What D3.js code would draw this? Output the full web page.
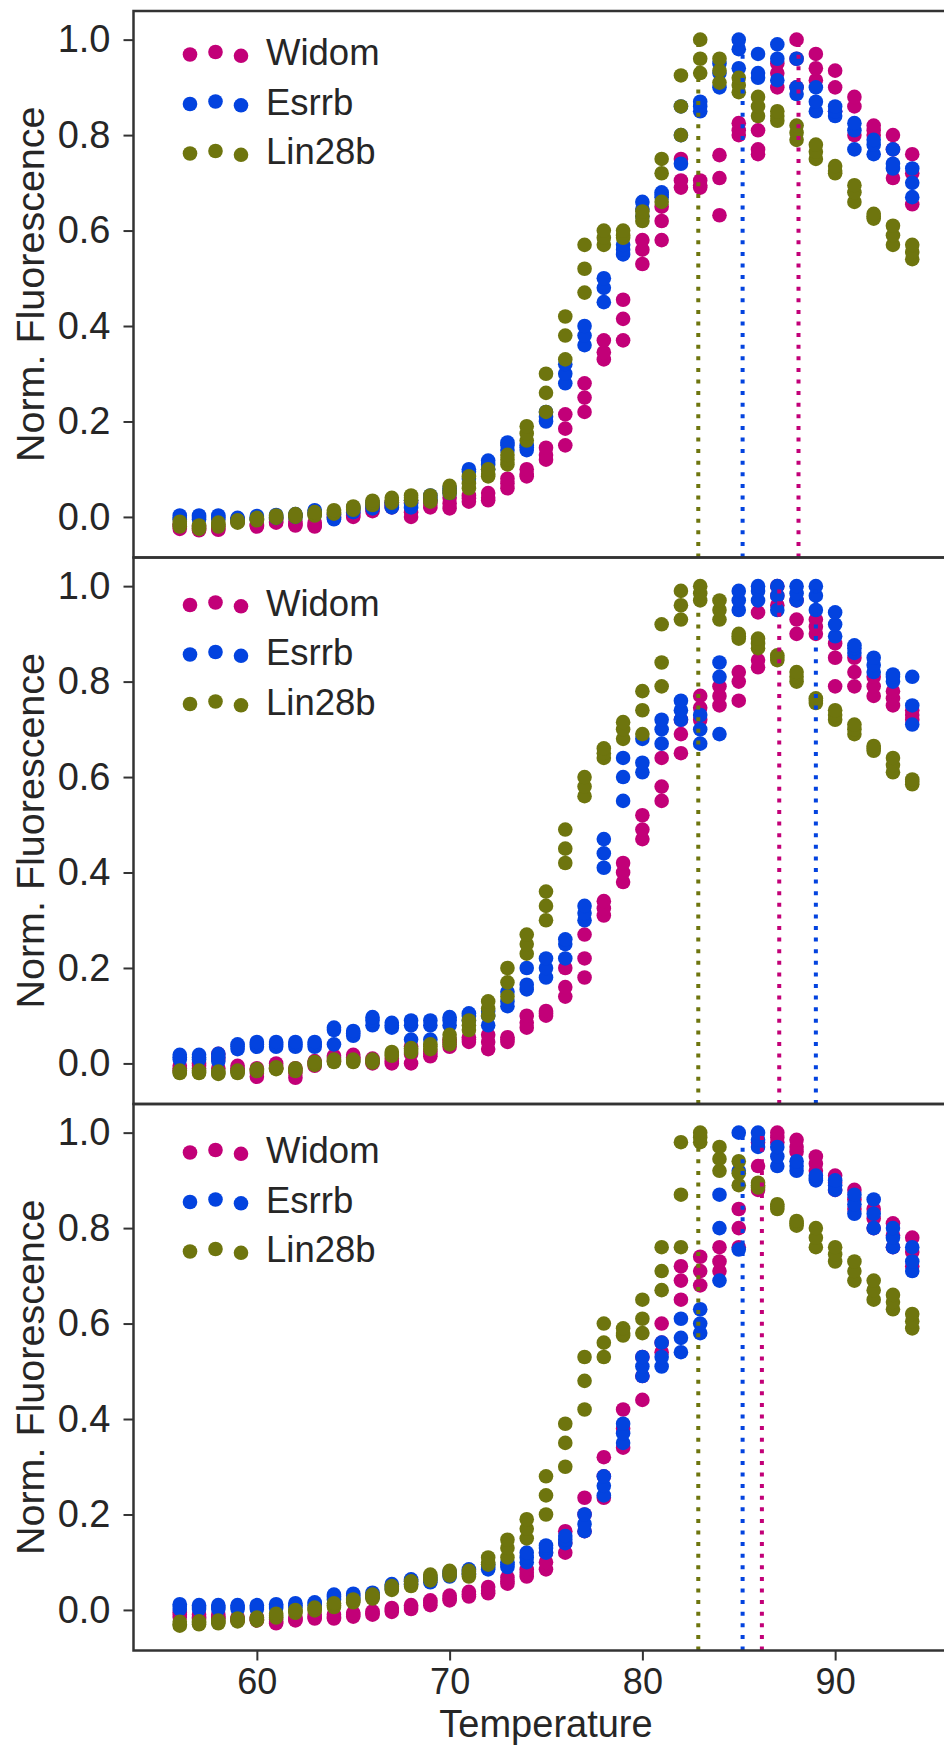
<!DOCTYPE html>
<html>
<head>
<meta charset="utf-8">
<script src="https://cdn.jsdelivr.net/npm/d3@7"></script>
<style>
  body { margin: 0; background: #fff; }
  svg { display: block; }
  text { font-family: "Liberation Sans", Arial, sans-serif; fill: #262626; }
</style>
</head>
<body>
<svg id="chart"></svg>
<script>
var temps = [56, 57, 58, 59, 60, 61, 62, 63, 64, 65, 66, 67, 68, 69, 70, 71, 72, 73, 74, 75,
             76, 77, 78, 79, 80, 81, 82, 83, 84, 85, 86, 87, 88, 89, 90, 91, 92, 93, 94];
var seriesNames  = ["Widom", "Esrrb", "Lin28b"];
var seriesColors = ["#c20078", "#0343df", "#6e750e"];
var yTicks = [0, 0.2, 0.4, 0.6, 0.8, 1.0];
var xTicks = [60, 70, 80, 90];

// each row = the three replicate readings at one temperature
var widom1 = [[-0.025,-0.02,-0.015],[-0.028,-0.025,-0.02],[-0.027,-0.025,-0.02],[-0.01,-0.007,-0.005],[-0.02,-0.018,-0.015],
  [-0.012,-0.01,-0.005],[-0.018,-0.015,-0.01],[-0.02,-0.018,-0.012],[-0.002,0,0.004],[0,0.003,0.008],
  [0.012,0.018,0.022],[0.02,0.024,0.03],[0,0.01,0.03],[0.02,0.028,0.035],[0.018,0.028,0.04],
  [0.032,0.039,0.045],[0.035,0.04,0.05],[0.06,0.07,0.08],[0.085,0.09,0.1],[0.12,0.13,0.145],
  [0.15,0.185,0.215],[0.22,0.25,0.28],[0.33,0.345,0.37],[0.37,0.415,0.455],[0.53,0.56,0.58],
  [0.58,0.62,0.65],[0.69,0.705,0.75],[0.69,0.695,0.705],[0.632,0.71,0.758],[0.8,0.81,0.825],
  [0.76,0.77,0.81],[0.9,0.93,0.95],[0.9,0.96,1.0],[0.915,0.94,0.97],[0.85,0.9,0.935],
  [0.8,0.86,0.88],[0.8,0.81,0.82],[0.71,0.77,0.8],[0.655,0.72,0.76]];
var esrrb1 = [[-0.005,-0.002,0.003],[-0.005,0,0.003],[-0.005,0,0.003],[-0.008,-0.005,-0.002],[-0.005,-0.002,0.002],
  [-0.002,0,0.004],[0,0.003,0.006],[0.006,0.01,0.014],[-0.005,0,0.005],[0.01,0.015,0.02],
  [0.018,0.025,0.03],[0.02,0.026,0.03],[0.02,0.028,0.035],[0.035,0.04,0.045],[0.05,0.055,0.06],
  [0.08,0.095,0.1],[0.1,0.11,0.118],[0.14,0.15,0.156],[0.14,0.146,0.15],[0.2,0.21,0.22],
  [0.28,0.3,0.32],[0.36,0.38,0.4],[0.45,0.48,0.5],[0.55,0.56,0.57],[0.63,0.645,0.66],
  [0.67,0.675,0.68],[0.74,0.8,0.86],[0.85,0.86,0.87],[0.9,0.93,0.95],[0.94,0.98,1.0],
  [0.92,0.93,0.97],[0.915,0.96,0.99],[0.886,0.9,0.96],[0.85,0.87,0.9],[0.84,0.85,0.86],
  [0.77,0.81,0.825],[0.76,0.78,0.79],[0.73,0.74,0.77],[0.67,0.7,0.73]];
var lin28b1 = [[-0.02,-0.015,-0.01],[-0.025,-0.022,-0.018],[-0.02,-0.015,-0.012],[-0.012,-0.01,-0.007],[-0.007,-0.005,-0.002],
  [-0.002,0,0.003],[0,0.003,0.006],[0.003,0.006,0.01],[0.007,0.01,0.014],[0.015,0.018,0.022],
  [0.025,0.03,0.034],[0.03,0.035,0.04],[0.035,0.04,0.045],[0.032,0.036,0.045],[0.05,0.055,0.065],
  [0.06,0.07,0.085],[0.085,0.09,0.1],[0.11,0.12,0.13],[0.16,0.175,0.19],[0.22,0.26,0.3],
  [0.33,0.38,0.42],[0.47,0.52,0.57],[0.57,0.585,0.6],[0.585,0.59,0.6],[0.62,0.63,0.64],
  [0.66,0.72,0.75],[0.8,0.86,0.925],[0.93,0.96,1.0],[0.91,0.935,0.96],[0.89,0.905,0.92],
  [0.84,0.86,0.88],[0.83,0.84,0.85],[0.79,0.805,0.82],[0.75,0.765,0.78],[0.72,0.725,0.735],
  [0.66,0.68,0.695],[0.625,0.63,0.635],[0.57,0.59,0.61],[0.54,0.555,0.57]];

var widom2 = [[-0.015,-0.01,-0.005],[-0.01,-0.005,0],[-0.01,0.01,0.02],[-0.015,-0.01,-0.005],[-0.028,-0.02,-0.01],
  [-0.01,-0.005,0],[-0.03,-0.02,-0.01],[-0.005,0,0.005],[0.005,0.012,0.016],[0.01,0.013,0.018],
  [0,0.005,0.01],[0,0.005,0.01],[0,0.02,0.036],[0.015,0.02,0.025],[0.035,0.044,0.05],
  [0.045,0.05,0.055],[0.03,0.045,0.06],[0.045,0.05,0.055],[0.075,0.085,0.1],[0.1,0.105,0.11],
  [0.14,0.16,0.2],[0.18,0.22,0.27],[0.31,0.325,0.34],[0.38,0.4,0.42],[0.47,0.49,0.52],
  [0.55,0.58,0.64],[0.65,0.69,0.72],[0.72,0.745,0.77],[0.75,0.77,0.79],[0.76,0.8,0.82],
  [0.83,0.845,0.945],[0.96,0.98,1.0],[0.9,0.93,0.97],[0.9,0.915,0.93],[0.79,0.85,0.88],
  [0.79,0.82,0.85],[0.77,0.79,0.81],[0.75,0.765,0.78],[0.72,0.73,0.74]];
var esrrb2 = [[0.008,0.013,0.018],[0.008,0.013,0.018],[0.005,0.013,0.02],[0.03,0.036,0.04],[0.035,0.04,0.045],
  [0.035,0.04,0.045],[0.035,0.04,0.045],[0.035,0.04,0.045],[0.04,0.07,0.075],[0.058,0.063,0.068],
  [0.08,0.09,0.097],[0.075,0.08,0.085],[0.05,0.08,0.09],[0.05,0.08,0.09],[0.08,0.09,0.097],
  [0.09,0.1,0.105],[0.08,0.1,0.11],[0.12,0.13,0.15],[0.155,0.165,0.2],[0.18,0.2,0.22],
  [0.22,0.25,0.26],[0.3,0.315,0.33],[0.41,0.44,0.47],[0.55,0.6,0.64],[0.61,0.63,0.68],
  [0.67,0.7,0.72],[0.72,0.74,0.76],[0.67,0.7,0.73],[0.69,0.81,0.84],[0.95,0.97,0.99],
  [0.97,0.99,1.0],[0.95,0.98,1.0],[0.97,0.985,1.0],[0.95,0.98,1.0],[0.895,0.92,0.945],
  [0.86,0.87,0.876],[0.82,0.835,0.85],[0.8,0.81,0.815],[0.71,0.75,0.81]];
var lin28b2 = [[-0.02,-0.018,-0.015],[-0.02,-0.018,-0.015],[-0.022,-0.02,-0.017],[-0.02,-0.018,-0.015],[-0.016,-0.014,-0.012],
  [-0.012,-0.01,-0.008],[-0.016,-0.014,-0.01],[-0.003,0,0.003],[0.003,0.005,0.008],[0.003,0.005,0.008],
  [0.002,0.005,0.008],[0.016,0.02,0.024],[0.024,0.028,0.032],[0.03,0.036,0.04],[0.04,0.05,0.06],
  [0.07,0.08,0.09],[0.1,0.115,0.13],[0.14,0.17,0.2],[0.23,0.25,0.27],[0.3,0.33,0.36],
  [0.42,0.45,0.49],[0.56,0.58,0.6],[0.64,0.65,0.66],[0.68,0.7,0.715],[0.69,0.74,0.78],
  [0.79,0.84,0.92],[0.93,0.96,0.99],[0.97,0.985,1.0],[0.93,0.95,0.97],[0.89,0.895,0.9],
  [0.87,0.88,0.89],[0.845,0.85,0.855],[0.8,0.81,0.82],[0.755,0.76,0.765],[0.72,0.73,0.74],
  [0.69,0.7,0.71],[0.655,0.66,0.665],[0.61,0.625,0.64],[0.585,0.59,0.595]];

var widom3 = [[-0.015,-0.01,-0.005],[-0.018,-0.015,-0.01],[-0.018,-0.015,-0.01],[-0.022,-0.02,-0.015],[-0.022,-0.02,-0.015],
  [-0.028,-0.025,-0.02],[-0.022,-0.02,-0.015],[-0.018,-0.015,-0.01],[-0.018,-0.015,-0.01],[-0.014,-0.01,-0.006],
  [-0.01,-0.007,-0.003],[-0.004,0,0.004],[0.002,0.006,0.01],[0.01,0.015,0.02],[0.02,0.024,0.03],
  [0.028,0.033,0.038],[0.035,0.04,0.048],[0.055,0.06,0.068],[0.07,0.078,0.085],[0.085,0.1,0.12],
  [0.12,0.14,0.165],[0.165,0.2,0.235],[0.235,0.28,0.32],[0.34,0.38,0.42],[0.44,0.49,0.53],
  [0.54,0.56,0.6],[0.65,0.69,0.72],[0.68,0.71,0.74],[0.71,0.73,0.76],[0.76,0.8,0.84],
  [0.88,0.93,0.98],[0.98,0.99,1.0],[0.96,0.97,0.985],[0.92,0.935,0.95],[0.88,0.895,0.91],
  [0.84,0.86,0.88],[0.8,0.82,0.84],[0.76,0.785,0.81],[0.72,0.75,0.78]];
var esrrb3 = [[0.002,0.008,0.012],[0.002,0.006,0.01],[0.002,0.006,0.01],[0.002,0.006,0.01],[0.002,0.006,0.01],
  [0.004,0.008,0.012],[0.006,0.01,0.014],[0.01,0.013,0.016],[0.022,0.028,0.032],[0.024,0.03,0.034],
  [0.026,0.032,0.036],[0.044,0.05,0.054],[0.054,0.06,0.064],[0.058,0.063,0.068],[0.07,0.077,0.08],
  [0.075,0.08,0.085],[0.085,0.09,0.095],[0.09,0.095,0.1],[0.1,0.11,0.12],[0.12,0.13,0.135],
  [0.14,0.147,0.155],[0.165,0.18,0.2],[0.24,0.26,0.28],[0.35,0.37,0.39],[0.49,0.51,0.53],
  [0.51,0.53,0.56],[0.54,0.57,0.61],[0.58,0.6,0.63],[0.69,0.8,0.87],[0.755,0.92,1.0],
  [0.97,0.985,1.0],[0.93,0.95,0.97],[0.92,0.93,0.94],[0.9,0.905,0.91],[0.88,0.89,0.9],
  [0.83,0.85,0.87],[0.8,0.83,0.86],[0.76,0.78,0.8],[0.71,0.73,0.76]];
var lin28b3 = [[-0.033,-0.03,-0.025],[-0.03,-0.027,-0.024],[-0.028,-0.025,-0.022],[-0.024,-0.021,-0.018],[-0.022,-0.019,-0.016],
  [-0.016,-0.012,-0.008],[-0.006,-0.003,0],[-0.001,0.002,0.005],[0.006,0.01,0.014],[0.016,0.019,0.022],
  [0.024,0.028,0.032],[0.042,0.046,0.05],[0.05,0.055,0.06],[0.062,0.068,0.074],[0.072,0.077,0.082],
  [0.07,0.077,0.082],[0.095,0.1,0.11],[0.11,0.13,0.147],[0.15,0.17,0.19],[0.2,0.24,0.28],
  [0.3,0.35,0.39],[0.42,0.48,0.53],[0.53,0.56,0.6],[0.575,0.58,0.59],[0.58,0.61,0.65],
  [0.67,0.71,0.76],[0.76,0.87,0.98],[0.98,0.99,1.0],[0.92,0.945,0.97],[0.89,0.915,0.94],
  [0.885,0.89,0.895],[0.84,0.845,0.85],[0.805,0.81,0.815],[0.76,0.78,0.8],[0.73,0.745,0.76],
  [0.69,0.71,0.73],[0.65,0.67,0.69],[0.63,0.645,0.66],[0.59,0.605,0.62]];

// melting temperatures (Widom, Esrrb, Lin28b) per panel
var meltTemps1 = [88.1, 85.2, 82.9];
var meltTemps2 = [87.1, 89.0, 82.9];
var meltTemps3 = [86.2, 85.2, 82.9];

var panels = [
  { series: [widom1, esrrb1, lin28b1], tm: meltTemps1 },
  { series: [widom2, esrrb2, lin28b2], tm: meltTemps2 },
  { series: [widom3, esrrb3, lin28b3], tm: meltTemps3 }
];

var W = 944, H = 1745;
var left = 133.5, right = 958.5;
var panelTop = 11, panelH = 546.5;
var legendTop = [41, 45, 46];
var r = 7.3;

var svg = d3.select("#chart").attr("width", W).attr("height", H);

var x = d3.scaleLinear().domain([53.6, 96.4]).range([left, right]);

panels.forEach(function (p, pi) {
  var top = panelTop + pi * panelH;
  var y = d3.scaleLinear().domain([-0.085, 1.06]).range([top + panelH, top]);
  var g = svg.append("g").attr("class", "panel");

  // scatter points, one layer per series
  p.series.forEach(function (rows, si) {
    var pts = [];
    rows.forEach(function (reps, ti) {
      reps.forEach(function (v) { pts.push({ t: temps[ti], v: v }); });
    });
    g.append("g").selectAll("circle").data(pts).enter().append("circle")
      .attr("cx", function (d) { return x(d.t); })
      .attr("cy", function (d) { return y(d.v); })
      .attr("r", r)
      .attr("fill", seriesColors[si]);
  });

  // dotted melting-temperature lines
  g.append("g").selectAll("line").data(p.tm).enter().append("line")
    .attr("x1", function (d) { return x(d); })
    .attr("x2", function (d) { return x(d); })
    .attr("y1", y(-0.085))
    .attr("y2", y(1.0))
    .attr("stroke", function (d, i) { return seriesColors[i]; })
    .attr("stroke-width", 4)
    .attr("stroke-dasharray", "4 7.6");

  // y axis
  var ya = g.append("g")
    .attr("transform", "translate(" + left + ",0)")
    .call(d3.axisLeft(y).tickValues(yTicks).tickFormat(d3.format(".1f")).tickSize(10).tickPadding(13));
  ya.select(".domain").remove();
  ya.selectAll(".tick line").attr("stroke", "#333").attr("stroke-width", 2);
  ya.selectAll(".tick text").attr("font-size", 38).attr("font-family", null).attr("fill", "#333");

  // spines (right one falls outside the picture)
  g.append("rect")
    .attr("x", left).attr("y", top)
    .attr("width", right - left).attr("height", panelH)
    .attr("fill", "none").attr("stroke", "#333").attr("stroke-width", 2.5);

  g.append("text")
    .attr("transform", "translate(44," + (top + panelH / 2) + ") rotate(-90)")
    .attr("text-anchor", "middle")
    .attr("font-size", 39.5)
    .text("Norm. Fluorescence");

  // legend
  var lg = g.append("g").attr("transform", "translate(0," + (top + legendTop[pi]) + ")");
  seriesNames.forEach(function (name, si) {
    var row = lg.append("g").attr("transform", "translate(0," + (si * 49.5) + ")");
    row.selectAll("circle").data([2.5, 0, 3.8]).enter().append("circle")
      .attr("cx", function (d, i) { return 190 + i * 25.5; })
      .attr("cy", function (d) { return d; })
      .attr("r", r)
      .attr("fill", seriesColors[si]);
    row.append("text")
      .attr("x", 266)
      .attr("y", 0)
      .attr("dy", "0.36em")
      .attr("font-size", 36.5)
      .text(name);
  });

  if (pi == panels.length - 1) {
    var xa = g.append("g")
      .attr("transform", "translate(0," + (top + panelH) + ")")
      .call(d3.axisBottom(x).tickValues(xTicks).tickSize(10).tickPadding(8));
    xa.select(".domain").remove();
    xa.selectAll(".tick line").attr("stroke", "#333").attr("stroke-width", 2);
    xa.selectAll(".tick text").attr("font-size", 36).attr("font-family", null).attr("fill", "#333");

    g.append("text")
      .attr("x", (left + right) / 2)
      .attr("y", 1736.5)
      .attr("text-anchor", "middle")
      .attr("font-size", 38)
      .text("Temperature");
  }
});
</script>
</body>
</html>
